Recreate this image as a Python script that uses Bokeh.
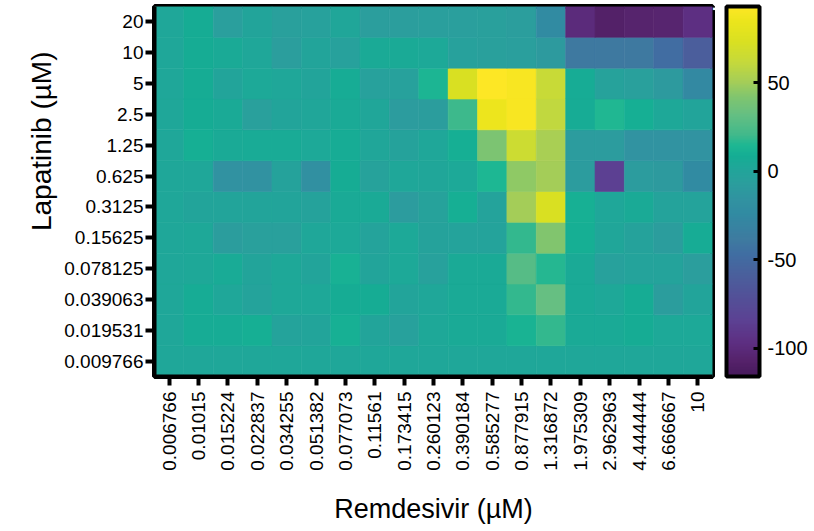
import numpy as np
from bokeh.plotting import figure
from bokeh.models import ColumnDataSource, LinearColorMapper, ColorBar, FixedTicker, Range1d, Title
from bokeh.transform import transform
from bokeh.embed import file_html
from bokeh.resources import INLINE

# Remdesivir concentrations (x, left to right)
remdesivir = ["0.006766", "0.01015", "0.015224", "0.022837", "0.034255", "0.051382",
              "0.077073", "0.11561", "0.173415", "0.260123", "0.390184", "0.585277",
              "0.877915", "1.316872", "1.975309", "2.962963", "4.444444", "6.666667", "10"]
# Lapatinib concentrations (y, bottom to top)
lapatinib = ["0.009766", "0.019531", "0.039063", "0.078125", "0.15625", "0.3125",
             "0.625", "1.25", "2.5", "5", "10", "20"]

# values per Lapatinib row (columns follow remdesivir order)
row_0_009766 = [2, 2, 2, 2, 2, 2, 2, 2, 2, 2, 2, 2, 2, 2, 2, 2, 2, 2, 2]
row_0_019531 = [2, 7, 7, 9, -1, 0, 10, 0, -4, 3, 5, 5, 12, 18, 5, 5, 8, 4, 4]
row_0_039063 = [2, 7, 2, -1, 3, 3, 8, 8, 0, 2, 5, 5, 18, 32, 5, 3, 8, -8, 0]
row_0_078125 = [2, 3, 6, 0, 3, 0, 11, 0, 4, -4, 5, 5, 27, 16, 5, -4, -1, -1, -7]
row_0_15625 = [2, 3, -8, -5, -5, 2, 4, -1, 4, -2, -1, -1, 18, 42, 9, 1, -2, -8, 7]
row_0_3125 = [2, 0, 0, 0, 0, -2, 5, 5, -9, -3, 9, -1, 50, 73, 10, 2, 5, -1, -1]
row_0_625 = [2, 2, -17, -17, -2, -19, 8, -3, 2, 1, 4, 14, 45, 50, -9, -85, -9, -10, -24]
row_1_25 = [2, 9, 5, 6, 6, 4, 7, 1, -2, 2, 9, 40, 66, 52, -9, -9, -16, -16, -16]
row_2_5 = [2, 8, 5, -5, 0, 1, 5, 1, -9, -8, 20, 85, 90, 60, 7, 15, 9, 3, 0]
row_5 = [2, 8, 0, 4, 2, 0, 7, -4, -4, 13, 73, 93, 90, 63, 7, -3, -5, -10, -26]
row_10 = [2, 8, 5, 2, -7, 0, -4, 5, 5, 4, -4, -5, -6, -10, -40, -40, -40, -48, -60]
row_20 = [2, 8, -6, 0, -5, -4, 1, -7, -7, -6, -6, -5, -7, -24, -100, -108, -106, -105, -97]

rows = [row_0_009766, row_0_019531, row_0_039063, row_0_078125, row_0_15625, row_0_3125,
        row_0_625, row_1_25, row_2_5, row_5, row_10, row_20]

colorbar_ticks = [-100, -50, 0, 50]
c_low, c_high = -116, 93

# viridis-like colour stops (position along the scale 0..1, colour)
stops = [(0.00, "#471a5c"), (0.04, "#55226a"), (0.09, "#5d2f82"), (0.15, "#5c4193"),
         (0.27, "#4b5f9c"), (0.33, "#406ea2"), (0.37, "#3e7ba0"), (0.44, "#318ba2"),
         (0.475, "#3192a1"), (0.52, "#2b9e9d"), (0.555, "#22a49a"), (0.57, "#1ea898"),
         (0.595, "#15ad94"), (0.625, "#1db793"), (0.655, "#42b98b"), (0.71, "#66bf82"),
         (0.755, "#7fc56f"), (0.795, "#a3cd59"), (0.85, "#c5d93b"), (0.905, "#d9e022"),
         (0.96, "#ebe51c"), (1.00, "#fde725")]


def build_palette(stops, n=256):
    pos = np.array([s[0] for s in stops])
    rgb = np.array([[int(c[i:i + 2], 16) for i in (1, 3, 5)] for _, c in stops], dtype=float)
    t = np.linspace(0, 1, n)
    cols = np.stack([np.interp(t, pos, rgb[:, k]) for k in range(3)], axis=1)
    return ["#%02x%02x%02x" % tuple(int(round(v)) for v in c) for c in cols]


palette = build_palette(stops)

xs, ys, vs = [], [], []
for yi, r in enumerate(rows):
    for xi, v in enumerate(r):
        xs.append(xi)
        ys.append(yi)
        vs.append(v)
source = ColumnDataSource(dict(x=xs, y=ys, v=vs))

mapper = LinearColorMapper(palette=palette, low=c_low, high=c_high)

FONT = "Liberation Sans"

p = figure(width=812, height=528, output_backend="svg", toolbar_location=None,
           x_range=Range1d(-0.5, len(remdesivir) - 0.5),
           y_range=Range1d(-0.5, len(lapatinib) - 0.5),
           min_border_top=6, min_border_left=154, min_border_right=100, min_border_bottom=152,
           x_axis_label="Remdesivir (µM)")

p.rect(x="x", y="y", width=1, height=1, source=source,
       fill_color=transform("v", mapper), line_color=transform("v", mapper), line_width=0.6)

p.grid.visible = False
p.outline_line_color = "black"
p.outline_line_width = 5

p.xaxis.ticker = FixedTicker(ticks=list(range(len(remdesivir))))
p.xaxis.major_label_overrides = {i: s for i, s in enumerate(remdesivir)}
p.xaxis.major_label_orientation = np.pi / 2
p.yaxis.ticker = FixedTicker(ticks=list(range(len(lapatinib))))
p.yaxis.major_label_overrides = {i: s for i, s in enumerate(lapatinib)}

for ax in (p.xaxis[0], p.yaxis[0]):
    ax.axis_line_color = "black"
    ax.axis_line_width = 4
    ax.major_tick_line_color = "black"
    ax.major_tick_line_width = 4
    ax.major_tick_line_cap = "butt"
    ax.major_tick_out = 9
    ax.major_tick_in = 0
    ax.minor_tick_line_color = None
    ax.major_label_text_font = FONT
    ax.major_label_text_font_size = "19px"
    ax.major_label_text_color = "black"
    ax.axis_label_text_font = FONT
    ax.axis_label_text_font_size = "27px"
    ax.axis_label_text_font_style = "normal"
    ax.axis_label_text_color = "black"
p.xaxis.major_label_standoff = 6
p.yaxis.major_label_standoff = 2
p.xaxis.axis_label_standoff = 20

ytitle = Title(text="Lapatinib (µM)", align="right", offset=45,
               text_font=FONT, text_font_size="28px", text_font_style="normal",
               text_color="black", standoff=10)
p.add_layout(ytitle, "left")

# blank (white) spacer between the frame and the colour bar
spacer = Title(text=".", text_font_size="17px", standoff=0, text_color="white")
p.add_layout(spacer, "right")

color_bar = ColorBar(color_mapper=mapper, ticker=FixedTicker(ticks=colorbar_ticks),
                     major_label_overrides={t: str(t) for t in colorbar_ticks},
                     width=33, padding=0, margin=0, label_standoff=8,
                     bar_line_color="black", bar_line_width=4,
                     major_tick_line_color="black", major_tick_line_width=3,
                     major_tick_in=6, major_tick_out=0,
                     minor_tick_line_color=None,
                     major_label_text_font=FONT, major_label_text_font_size="20px",
                     major_label_text_color="black",
                     border_line_color=None, background_fill_color=None)
p.add_layout(color_bar, "right")

open("out.html", "w").write(file_html(p, INLINE))
